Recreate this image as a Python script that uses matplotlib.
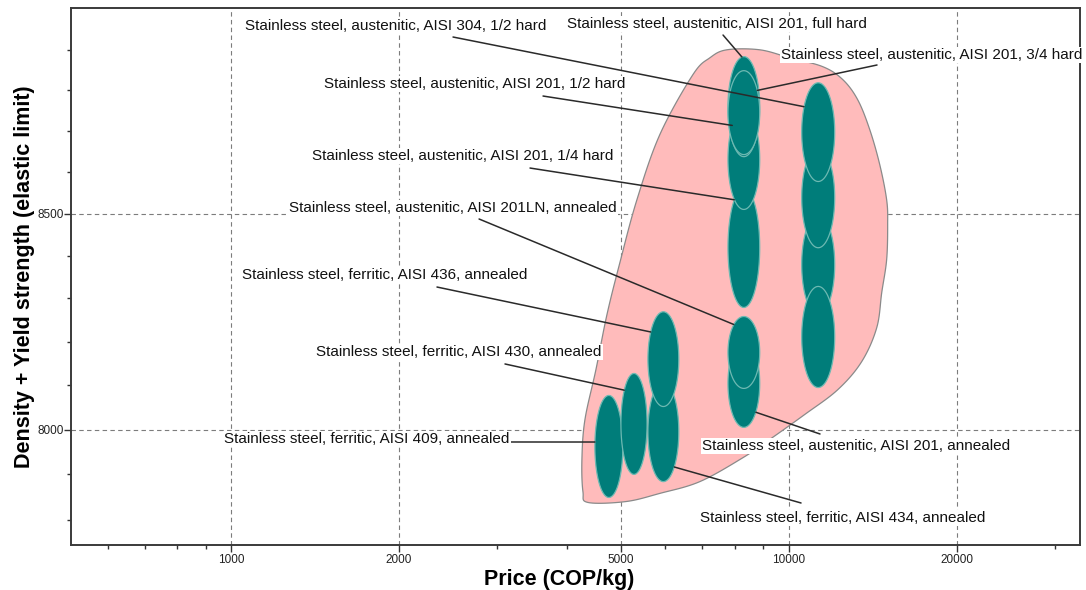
import numpy as np
import matplotlib
matplotlib.use("Agg")
import matplotlib.pyplot as plt
from matplotlib.ticker import FixedLocator, NullFormatter, FuncFormatter

plt.rcParams['font.family'] = ['Liberation Sans', 'DejaVu Sans']

# ---------------- data ----------------
# materials in drawing order (later ones are drawn on top)
materials = [
    "Stainless steel, ferritic, AISI 409, annealed",
    "Stainless steel, ferritic, AISI 430, annealed",
    "Stainless steel, ferritic, AISI 434, annealed",
    "Stainless steel, ferritic, AISI 436, annealed",
    "Stainless steel, austenitic, AISI 201, annealed",
    "Stainless steel, austenitic, AISI 201LN, annealed",
    "Stainless steel, austenitic, AISI 201, 1/4 hard",
    "Stainless steel, austenitic, AISI 201, 1/2 hard",
    "Stainless steel, austenitic, AISI 201, full hard",
    "Stainless steel, austenitic, AISI 201, 3/4 hard",
    "(unlabeled A)",
    "(unlabeled B)",
    "Stainless steel, austenitic, AISI 304, 1/2 hard",
    "(unlabeled C)",
]
price_lo = [4490, 5000, 5590, 5590, 7780, 7780, 7780, 7780, 7780, 7780, 10550, 10550, 10550, 10550]
price_hi = [5040, 5570, 6350, 6350, 8870, 8870, 8870, 8870, 8870, 8870, 12090, 12090, 12090, 12090]
prop_lo = [7849, 7900, 7884, 8052, 8005, 8093, 8279, 8510, 8637, 8642, 8262, 8419, 8577, 8095]
prop_hi = [8077, 8127, 8108, 8269, 8205, 8258, 8562, 8752, 8883, 8848, 8498, 8659, 8818, 8328]

# envelope of the selected family (price, property)
env_price = [7743, 8873, 10041, 11507, 12497, 13296, 13971, 14560, 14983, 15045, 14983,
             14683, 14381, 13514, 12241, 10683, 9247, 8272, 6927, 5873, 5105, 4364,
             4274, 4256, 4309, 4510, 4719, 4979, 5341, 5873, 6730, 7219]
env_prop = [8900, 8900, 8880, 8858, 8826, 8776, 8703, 8618, 8533, 8474, 8391,
            8314, 8232, 8154, 8090, 8034, 7978, 7937, 7884, 7858, 7840, 7838,
            7862, 7933, 8022, 8136, 8262, 8384, 8533, 8691, 8838, 8880]

x_major = [1000, 2000, 5000, 10000, 20000]
x_minor = [600, 700, 800, 900, 3000, 4000, 6000, 7000, 8000, 9000, 30000]
y_major = [8000, 8500]
y_minor = [7800, 7900, 8100, 8200, 8300, 8400, 8600, 8700, 8800, 8900]

# labels: material index, text pos (axes frac), line start (axes frac), target angle on ellipse (deg)
labels = [
    (12, (0.1724, 0.9665), (0.3786, 0.9460), 149),
    (8,  (0.4916, 0.9702), (0.6462, 0.9497), 97),
    (9,  (0.7037, 0.9125), (0.7988, 0.8939), 32),
    (7,  (0.2507, 0.8585), (0.4678, 0.8361), 137),
    (6,  (0.2389, 0.7244), (0.4549, 0.7020), 127),
    (5,  (0.2161, 0.6276), (0.4044, 0.6071), 129),
    (3,  (0.1695, 0.5028), (0.3627, 0.4804), 145),
    (1,  (0.2428, 0.3594), (0.4301, 0.3371), 138),
    (0,  (0.1516, 0.1974), (0.4331, 0.1918), 175),
    (4,  (0.6254, 0.1844), (0.7423, 0.2067), -41),
    (2,  (0.6234, 0.0503), (0.7235, 0.0782), -45),
]

# ---------------- figure ----------------
fig = plt.figure(figsize=(10.86, 5.90), dpi=100)
ax = fig.add_axes([0.0654, 0.0763, 0.9291, 0.9101])
ax.set_xscale('log')
ax.set_yscale('log')
ax.set_xlim(516, 33300)
ax.set_ylim(7745, 9005)

# envelope (smoothed closed curve in log space)
lx = np.log10(env_price)
ly = np.log10(env_prop)
n = len(lx)
px, py = [], []
for i in range(n):
    p0 = np.array([lx[(i - 1) % n], ly[(i - 1) % n]])
    p1 = np.array([lx[i], ly[i]])
    p2 = np.array([lx[(i + 1) % n], ly[(i + 1) % n]])
    p3 = np.array([lx[(i + 2) % n], ly[(i + 2) % n]])
    for t in np.linspace(0, 1, 12, endpoint=False):
        t2, t3 = t * t, t * t * t
        pt = 0.5 * ((2 * p1) + (-p0 + p2) * t + (2 * p0 - 5 * p1 + 4 * p2 - p3) * t2
                    + (-p0 + 3 * p1 - 3 * p2 + p3) * t3)
        px.append(pt[0]); py.append(pt[1])
ax.fill(10 ** np.array(px), 10 ** np.array(py), facecolor='#FFBBBB',
        edgecolor='#8a8a8a', linewidth=0.9, zorder=2)

# ellipses
teal = '#007D7A'
theta = np.linspace(0, 2 * np.pi, 200)
geo = []
for i in range(len(materials)):
    cx = (np.log10(price_lo[i]) + np.log10(price_hi[i])) / 2
    axx = (np.log10(price_hi[i]) - np.log10(price_lo[i])) / 2
    cy = (np.log10(prop_lo[i]) + np.log10(prop_hi[i])) / 2
    ayy = (np.log10(prop_hi[i]) - np.log10(prop_lo[i])) / 2
    geo.append((cx, axx, cy, ayy))
    ax.fill(10 ** (cx + axx * np.cos(theta)), 10 ** (cy + ayy * np.sin(theta)),
            facecolor=teal, edgecolor='#6DB9B2', linewidth=0.9, zorder=3)

# grid
ax.grid(True, which='major', linestyle=(0, (4, 3)), color='#7c7c7c', linewidth=0.8)
ax.set_axisbelow(True)

# labels and leader lines
for idx, tpos, lstart, ang in labels:
    cx, axx, cy, ayy = geo[idx]
    a = np.deg2rad(ang)
    tx = 10 ** (cx + axx * np.cos(a))
    ty = 10 ** (cy + ayy * np.sin(a))
    ax.annotate('', xy=(tx, ty), xycoords='data', xytext=lstart, textcoords='axes fraction',
                arrowprops=dict(arrowstyle='-', color='#2a2a2a', lw=1.1,
                                shrinkA=0, shrinkB=0), zorder=4)
    ax.text(tpos[0], tpos[1], materials[idx], transform=ax.transAxes, ha='left', va='center',
            fontsize=11, color='#111111', zorder=6,
            bbox=dict(facecolor='white', edgecolor='none', pad=1.0))

# axes cosmetics
ax.xaxis.set_major_locator(FixedLocator(x_major))
ax.xaxis.set_minor_locator(FixedLocator(x_minor))
ax.yaxis.set_major_locator(FixedLocator(y_major))
ax.yaxis.set_minor_locator(FixedLocator(y_minor))
fmt = FuncFormatter(lambda v, p: f"{int(round(v))}")
ax.xaxis.set_major_formatter(fmt)
ax.yaxis.set_major_formatter(fmt)
ax.xaxis.set_minor_formatter(NullFormatter())
ax.yaxis.set_minor_formatter(NullFormatter())
ax.tick_params(which='both', direction='out', color='#333333', width=1.0, labelsize=8.5,
               labelcolor='#222222', pad=1.5)
ax.tick_params(axis='y', which='both', pad=0.5)
ax.tick_params(which='major', length=5)
ax.tick_params(which='minor', length=3)
for s in ax.spines.values():
    s.set_color('#3a3a3a')
    s.set_linewidth(1.4)

ax.set_xlabel('Price (COP/kg)', fontsize=15.5, fontweight='bold')
ax.xaxis.set_label_coords(0.4836, -0.044)
ax.set_ylabel('Density + Yield strength (elastic limit)', fontsize=15.5, fontweight='bold')
ax.yaxis.set_label_coords(-0.0466, 0.499)
ax.yaxis.label.set_va('center')

fig.savefig('out.png', dpi=100)
